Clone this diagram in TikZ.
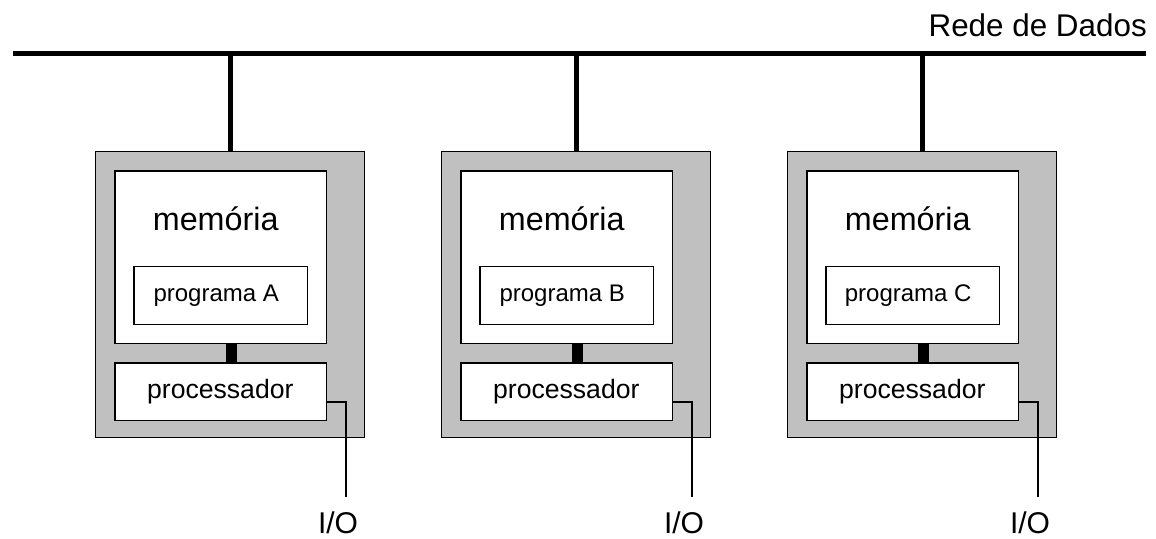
\documentclass[tikz,border=0pt]{standalone}
\usepackage{fontspec}
\setmainfont{Liberation Sans}
\definecolor{boxgray}{RGB}{192,192,192}
\begin{document}
\begin{tikzpicture}[x=1pt,y=-1pt,
  frame/.style={draw=black,line width=1.1pt,fill=boxgray,inner sep=0pt,minimum width=269pt,minimum height=286pt},
  membox/.style={draw=black,line width=1.3pt,fill=white,inner sep=0pt,minimum width=211.7pt,minimum height=172.5pt},
  progbox/.style={draw=black,line width=1.1pt,fill=white,inner sep=0pt,minimum width=173.7pt,minimum height=57.8pt},
  procbox/.style={draw=black,line width=1.3pt,fill=white,inner sep=0pt,minimum width=211.7pt,minimum height=57.5pt},
  bus/.style={line width=5pt},
  link/.style={line width=11pt},
  wire/.style={line width=1.6pt},
  txt/.style={inner sep=0pt,anchor=base}]
\useasboundingbox (0,0) rectangle (1156,538);

% data network bus
\coordinate (busL) at (13,53.5);
\coordinate (busR) at (1146,53.5);
\draw[bus] (busL) -- (busR);
\node[txt,font=\fontsize{31.4}{36}\selectfont,anchor=base east] (rede) at (1147,36.7) {Rede de Dados};

% three identical computers
\foreach \n/\dx in {A/0,B/346,C/692}{
  \node[frame] (out\n) at (230+\dx,294.5) {};
  \node[membox] (mem\n) at (220.8+\dx,257.3) {};
  \node[progbox] (prog\n) at (220.8+\dx,295.6) {};
  \node[procbox] (proc\n) at (220.8+\dx,391.8) {};
  \node[txt,font=\fontsize{32.3}{36}\selectfont] (memt\n) at (215.7+\dx,230.7) {memória};
  \node[txt,font=\fontsize{24}{28}\selectfont] (progt\n) at (216.2+\dx,301.7) {programa \n};
  \node[txt,font=\fontsize{26.6}{30}\selectfont] (proct\n) at (220.3+\dx,398.3) {processador};
  % bus drop
  \draw[bus] (out\n.north) -- (out\n.north |- busL);
  % memory-processor link
  \draw[link] (mem\n.south -| 231+\dx,0) -- (proc\n.north -| 231+\dx,0);
  % I/O wire
  \coordinate (k\n) at (346+\dx,402);
  \coordinate (io\n) at (346+\dx,497);
  \draw[wire] (k\n -| proc\n.east) -- (k\n) -- (io\n);
  \node[txt,font=\fontsize{30}{34}\selectfont] (iot\n) at (338+\dx,533.5) {I/O};
}
\end{tikzpicture}
\end{document}
